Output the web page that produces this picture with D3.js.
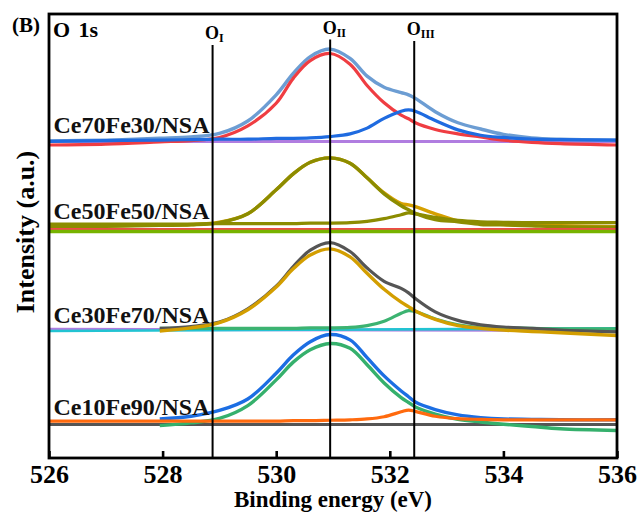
<!DOCTYPE html>
<html>
<head>
<meta charset="utf-8">
<script src="https://cdn.jsdelivr.net/npm/d3@7/dist/d3.min.js"></script>
<style>
  html, body { margin: 0; padding: 0; background: #fff; }
  svg { display: block; font-family: "Liberation Serif", "Times New Roman", serif; font-weight: bold; }
</style>
</head>
<body>
<svg id="chart" width="638" height="513"></svg>
<script>
// Binding energies (eV) shared by every fitted curve
const energy = [526, 527, 527.95, 528.5, 529, 529.5, 530, 530.3, 530.6, 530.95, 531.3,
                531.6, 531.9, 532.2, 532.33, 532.45, 532.8, 533.2, 533.6, 534, 534.5, 535, 536];
// Flat background lines span the whole window
const edges = [526, 536];

// Ce70Fe30/NSA (stacked intensity, a.u.)
const ce70Envelope = [71.4, 71.6, 72.0, 72.3, 73.1, 75.9, 81.8, 86.6, 90.4, 92.1, 90.0,
                      86.0, 83.5, 82.3, 81.8, 81.0, 78.0, 75.5, 74.1, 72.9, 72.1, 71.8, 71.6];
const ce70OII = [70.5, 70.7, 71.2, 71.5, 72.2, 74.8, 79.9, 85.5, 89.5, 91.1, 88.7,
                 83.9, 80.0, 77.2, 76.4, 75.5, 74.0, 73.0, 72.3, 71.6, 71.1, 70.8, 70.5];
const ce70OIII = [71.3, 71.5, 71.6, 71.7, 71.8, 71.8, 72.0, 72.0, 72.1, 72.4, 73.0,
                  74.3, 76.5, 78.1, 78.4, 78.1, 76.0, 73.9, 72.7, 72.2, 71.8, 71.7, 71.6];
const ce70Background = [71.3, 71.3];

// Ce50Fe50/NSA
const ce50Envelope = [52.2, 52.3, 52.5, 52.6, 53.1, 55.0, 60.4, 64.0, 66.6, 67.6, 66.4,
                      63.1, 59.7, 57.3, 57.0, 56.6, 55.0, 53.4, 52.9, 52.6, 52.4, 52.3, 52.1];
const ce50OII = [52.1, 52.2, 52.4, 52.5, 53.0, 55.0, 60.4, 64.0, 66.6, 67.6, 66.4,
                 63.1, 59.5, 56.8, 55.9, 55.1, 53.7, 53.2, 52.6, 52.5, 52.3, 52.1, 52.0];
const ce50OIII = [52.7, 52.7, 52.7, 52.7, 52.8, 52.8, 52.8, 52.8, 52.9, 52.9, 53.0,
                  53.3, 53.9, 54.8, 55.2, 55.0, 54.2, 53.5, 53.2, 53.1, 53.0, 53.0, 53.0];
const ce50BackgroundA = [51.5, 51.5];
const ce50BackgroundB = [51.0, 51.0];

// Ce30Fe70/NSA
const ce30Envelope = [null, null, 29.2, 29.6, 30.6, 33.6, 38.7, 43.1, 46.8, 48.5, 46.5,
                      42.8, 39.8, 38.2, 37.2, 35.9, 32.9, 31.0, 30.0, 29.5, 29.2, 28.8, 28.4];
const ce30OII = [null, null, 28.6, 29.3, 30.5, 33.4, 38.5, 42.6, 45.7, 47.1, 45.3,
                 41.6, 38.0, 35.1, 34.1, 33.1, 31.2, 29.8, 29.2, 28.8, 28.5, 28.2, 27.6];
const ce30OIII = [null, null, 29.2, 29.2, 29.2, 29.2, 29.2, 29.2, 29.3, 29.3, 29.4,
                  29.8, 30.8, 32.6, 33.2, 33.0, 31.3, 30.0, 29.4, 29.3, 29.2, 29.1, 29.1];
const ce30BackgroundA = [29.0, 28.7];
const ce30BackgroundB = [28.6, 29.2];

// Ce10Fe90/NSA
const ce10Envelope = [null, null, 8.8, 9.4, 10.7, 13.3, 19.1, 23.2, 26.2, 27.8, 26.6,
                      22.6, 18.5, 15.1, 13.8, 12.6, 10.9, 9.7, 9.1, 8.8, 8.7, 8.6, 8.6];
const ce10OII = [null, null, 7.3, 7.9, 8.9, 11.8, 17.6, 21.6, 24.4, 25.8, 24.7,
                 21.0, 16.9, 13.6, 12.5, 11.5, 9.9, 8.7, 8.1, 7.6, 7.1, 6.6, 6.2];
const ce10OIII = [8.3, 8.3, 8.3, 8.3, 8.3, 8.3, 8.3, 8.4, 8.4, 8.5, 8.6,
                  8.8, 9.3, 10.4, 10.8, 10.5, 9.4, 8.85, 8.7, 8.6, 8.6, 8.6, 8.6];
const ce10Background = [7.55, 7.55];

// Sample names and the intensity level each name sits on
const sampleNames = ["Ce70Fe30/NSA", "Ce50Fe50/NSA", "Ce30Fe70/NSA", "Ce10Fe90/NSA"];
const sampleLevels = [71.3, 52.1, 28.6, 7.9];

// Oxygen species reference energies
const speciesNames = ["I", "II", "III"];
const speciesEnergy = [528.88, 530.95, 532.43];

const xTicks = [526, 528, 530, 532, 534, 536];

// ---------------------------------------------------------------- drawing
const svg = d3.select("#chart");
const plot = { left: 49, right: 617, top: 14, bottom: 458 };

const x = d3.scaleLinear().domain([526, 536]).range([plot.left, plot.right]);
const y = d3.scaleLinear().domain([0, 100]).range([plot.bottom, plot.top]);

const line = d3.line()
  .defined(d => d[1] != null)
  .x(d => x(d[0]))
  .y(d => y(d[1]))
  .curve(d3.curveCatmullRom.alpha(0.5));

const flat = d3.line().x(d => x(d[0])).y(d => y(d[1]));

// drawing order: background first, envelope, then components
const curves = [
  // Ce70Fe30
  { e: edges,  v: ce70Background, c: "#b07de0", w: 3, f: true },
  { e: energy, v: ce70Envelope,   c: "#6c9dd3", w: 3.4 },
  { e: energy, v: ce70OII,        c: "#ef3d42", w: 3.2 },
  { e: energy, v: ce70OIII,       c: "#1f6be0", w: 3.2 },
  // Ce50Fe50
  { e: energy, v: ce50Envelope,   c: "#d6a000", w: 3.4 },
  { e: energy, v: ce50OIII,       c: "#8c8c00", w: 3.2 },
  { e: energy, v: ce50OII,        c: "#8c8c00", w: 3.4 },
  { e: edges,  v: ce50BackgroundA, c: "#f04848", w: 2.6, f: true },
  { e: edges,  v: ce50BackgroundB, c: "#77b300", w: 3.4, f: true },
  // Ce30Fe70
  { e: edges,  v: ce30BackgroundA, c: "#b07de0", w: 3, f: true },
  { e: edges,  v: ce30BackgroundB, c: "#22c3d2", w: 2.6, f: true },
  { e: energy, v: ce30OIII,       c: "#3cb371", w: 3.2 },
  { e: energy, v: ce30Envelope,   c: "#555555", w: 3.2 },
  { e: energy, v: ce30OII,        c: "#d39e00", w: 3.4 },
  // Ce10Fe90
  { e: edges,  v: ce10Background, c: "#555555", w: 3.2, f: true },
  { e: energy, v: ce10Envelope,   c: "#1c6ee3", w: 3.4 },
  { e: energy, v: ce10OII,        c: "#35b06c", w: 3.4 },
  { e: energy, v: ce10OIII,       c: "#ff6a0e", w: 3.2 }
];

const curveLayer = svg.append("g");
curves.forEach(s => {
  const pts = s.e.map((en, i) => [en, s.v[i]]);
  curveLayer.append("path")
    .attr("d", (s.f ? flat : line)(pts))
    .attr("fill", "none")
    .attr("stroke", s.c)
    .attr("stroke-width", s.w)
    .attr("stroke-linejoin", "round");
});

// species reference lines and their labels
const labelBase = [39, 33.5, 35];
speciesEnergy.forEach((en, i) => {
  svg.append("line")
    .attr("x1", x(en)).attr("x2", x(en))
    .attr("y1", labelBase[i] + 6).attr("y2", plot.bottom)
    .attr("stroke", "#000").attr("stroke-width", 2);
  const t = svg.append("text")
    .attr("x", x(en) - 7.5).attr("y", labelBase[i])
    .attr("font-size", 18).attr("fill", "#000");
  t.append("tspan").text("O");
  t.append("tspan").attr("dy", 3).attr("font-size", 12).text(speciesNames[i]);
});

// sample names
sampleNames.forEach((name, i) => {
  svg.append("text")
    .attr("x", x(526.08)).attr("y", y(sampleLevels[i]) - 8)
    .attr("font-size", 24).attr("fill", "#111")
    .text(name);
});

// bottom axis with inward ticks
const axis = d3.axisBottom(x)
  .tickValues(xTicks)
  .tickFormat(d3.format("d"))
  .tickSizeInner(-7)
  .tickSizeOuter(0)
  .tickPadding(7);

const gx = svg.append("g")
  .attr("transform", `translate(0,${plot.bottom})`)
  .call(axis);
gx.select(".domain").remove();
gx.selectAll(".tick line").attr("stroke", "#000").attr("stroke-width", 2.6);
gx.selectAll(".tick text")
  .attr("font-family", "Liberation Serif, Times New Roman, serif")
  .attr("font-weight", "bold")
  .attr("font-size", 26)
  .attr("fill", "#000");

// plot frame
svg.append("rect")
  .attr("x", plot.left).attr("y", plot.top)
  .attr("width", plot.right - plot.left).attr("height", plot.bottom - plot.top)
  .attr("fill", "none").attr("stroke", "#000").attr("stroke-width", 2.8);

// titles
svg.append("text")
  .attr("x", (plot.left + plot.right) / 2).attr("y", 507)
  .attr("text-anchor", "middle").attr("font-size", 23).attr("fill", "#000")
  .text("Binding energy (eV)");

svg.append("text")
  .attr("transform", `translate(34,${(plot.top + plot.bottom) / 2 - 4}) rotate(-90)`)
  .attr("text-anchor", "middle").attr("font-size", 26).attr("fill", "#000")
  .text("Intensity (a.u.)");

svg.append("text")
  .attr("x", 12).attr("y", 32)
  .attr("font-size", 21).attr("fill", "#000")
  .text("(B)");

svg.append("text")
  .attr("x", 53).attr("y", 37)
  .attr("font-size", 22).attr("fill", "#000")
  .attr("word-spacing", 3)
  .text("O 1s");
</script>
</body>
</html>
